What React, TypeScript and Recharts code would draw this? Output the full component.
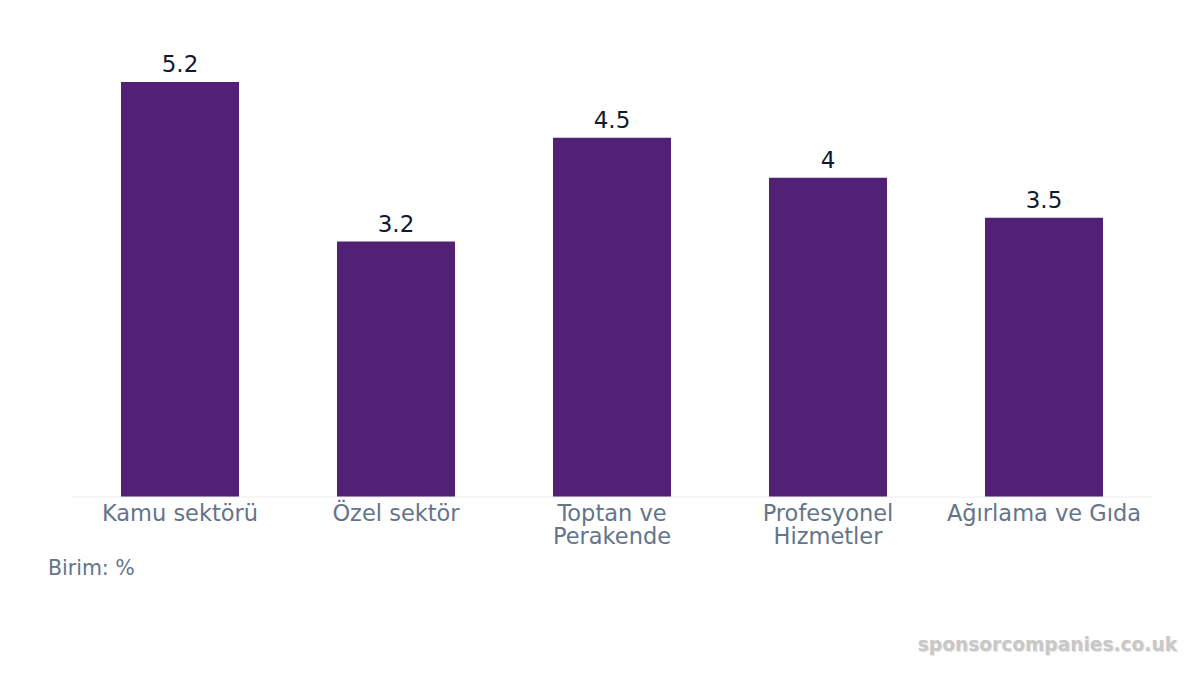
import React from "react";
import { BarChart, Bar, XAxis, YAxis, LabelList } from "recharts";

const categories = ["Kamu sektörü", "Özel sektör", "Toptan ve\nPerakende", "Profesyonel\nHizmetler", "Ağırlama ve Gıda"];
const values = [5.2, 3.2, 4.5, 4, 3.5];

const data = categories.map((c, i) => ({ name: c, value: values[i] }));

const FONT = "'DejaVu Sans', sans-serif";

const Tick = (props: any) => {
  const { x, y, payload } = props;
  const lines = String(payload.value).split("\n");
  return (
    <text x={x} y={y} textAnchor="middle" fill="#64748b" fontSize={22.5} fontFamily={FONT}>
      {lines.map((l, i) => (
        <tspan key={i} x={x} dy={i === 0 ? 20 : 22.5}>
          {l}
        </tspan>
      ))}
    </text>
  );
};

export default function App() {
  return (
    <div style={{ position: "absolute", left: 0, top: 0, width: 1200, height: 675, background: "#fff", fontFamily: FONT }}>
      <BarChart width={1200} height={675} data={data} margin={{ top: 82, right: 48, bottom: 118, left: 72 }}>
        <XAxis
          dataKey="name"
          height={60}
          axisLine={{ stroke: "#eeeeee" }}
          tickLine={false}
          tick={<Tick />}
          interval={0}
          tickMargin={0}
          tickSize={4}
        />
        <YAxis hide domain={[0, 5.2]} />
        <Bar dataKey="value" fill="#522176" barSize={118} isAnimationActive={false}>
          <LabelList dataKey="value" position="top" offset={10} fill="#111a2e" fontSize={23} fontFamily={FONT} />
        </Bar>
      </BarChart>
      <div style={{ position: "absolute", left: 48, top: 556, fontSize: 20.5, color: "#64748b", fontFamily: FONT }}>Birim: %</div>
      <div
        style={{
          position: "absolute",
          right: 23,
          top: 634,
          fontSize: 18.6,
          fontWeight: "bold",
          color: "#c8c8c8",
          fontFamily: FONT,
          textShadow: "1px 1px 1px rgba(0,0,0,0.12)",
        }}
      >
        sponsorcompanies.co.uk
      </div>
    </div>
  );
}
